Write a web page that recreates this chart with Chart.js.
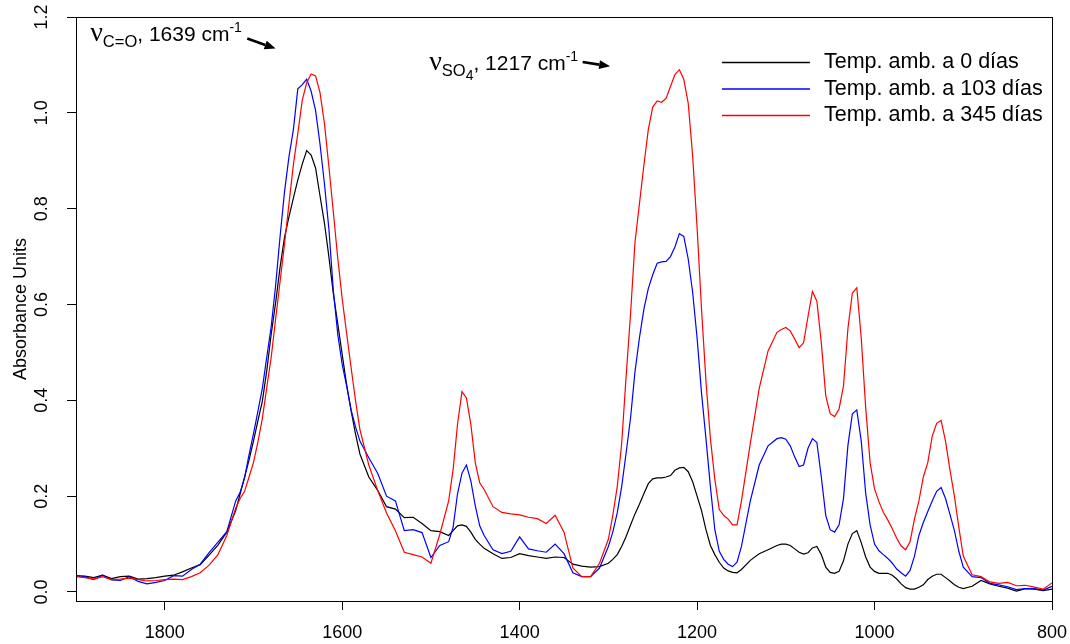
<!DOCTYPE html>
<html>
<head>
<meta charset="utf-8">
<script src="https://cdn.jsdelivr.net/npm/chart.js@4.4.1/dist/chart.umd.min.js"></script>
<style>
  html, body { margin: 0; padding: 0; background: #fff; }
  #wrap { width: 1070px; height: 644px; }
</style>
</head>
<body>
<div id="wrap"><canvas id="spectra" width="1070" height="644"></canvas></div>
<script>
// --- data (wavenumber in cm-1, absorbance units) ---
const wavenumbers = [
  1900, 1890, 1880, 1870, 1860, 1850, 1840, 1830, 1820, 1810, 1800, 1790, 1780,
  1770, 1760, 1750, 1740, 1730, 1720,
  1715, 1710, 1705, 1700, 1695, 1690, 1685, 1680, 1675, 1670, 1665, 1660, 1655, 1650,
  1645, 1640, 1635, 1630, 1625, 1620, 1615, 1610, 1605, 1600, 1595, 1590, 1585, 1580,
  1570, 1560, 1550, 1540, 1530, 1520, 1510, 1500, 1490, 1480,
  1475, 1470, 1465, 1460, 1455, 1450, 1445, 1440,
  1430, 1420, 1410, 1400, 1390, 1380, 1370, 1360, 1350, 1340, 1330, 1320, 1310, 1300,
  1295, 1290, 1285, 1280, 1275, 1270, 1265, 1260, 1255, 1250, 1245, 1240, 1235, 1230, 1225,
  1220, 1215, 1210, 1205, 1200, 1195, 1190, 1185, 1180, 1175, 1170, 1165, 1160, 1155, 1150,
  1140, 1130, 1120, 1110,
  1105, 1100, 1095, 1090, 1085, 1080, 1075, 1070, 1065, 1060, 1055, 1050, 1045, 1040, 1035,
  1030, 1025, 1020, 1015, 1010, 1005, 1000, 995, 990, 985, 980, 975, 970, 965, 960,
  955, 950, 945, 940, 935, 930, 925, 920, 915, 910, 905, 900,
  890, 880, 870, 860, 850, 840, 830, 820, 810, 800
];

const abs0days = [
  0.033, 0.033, 0.030, 0.035, 0.028, 0.032, 0.033, 0.027, 0.028, 0.030, 0.033, 0.035, 0.042,
  0.050, 0.057, 0.077, 0.098, 0.125, 0.170,
  0.205, 0.240, 0.275, 0.315, 0.357, 0.398, 0.462, 0.538, 0.604, 0.678, 0.740, 0.783, 0.822, 0.860,
  0.893, 0.921, 0.912, 0.885, 0.827, 0.770, 0.700, 0.623, 0.560, 0.496, 0.433, 0.379, 0.330, 0.288,
  0.240, 0.212, 0.178, 0.173, 0.155, 0.156, 0.143, 0.128, 0.126, 0.118,
  0.128, 0.138, 0.140, 0.137, 0.125, 0.110, 0.100, 0.091,
  0.080, 0.070, 0.072, 0.080, 0.076, 0.073, 0.070, 0.073, 0.072, 0.058, 0.054, 0.052, 0.053, 0.060,
  0.068, 0.078, 0.095, 0.116, 0.140, 0.163, 0.183, 0.205, 0.226, 0.236, 0.238, 0.238, 0.240, 0.243, 0.254,
  0.259, 0.260, 0.251, 0.230, 0.200, 0.170, 0.130, 0.097, 0.078, 0.062, 0.050, 0.044, 0.041, 0.040, 0.047,
  0.066, 0.080, 0.088, 0.097,
  0.100, 0.100, 0.097, 0.090, 0.083, 0.079, 0.082, 0.092, 0.095, 0.078, 0.052, 0.041, 0.039, 0.043, 0.065,
  0.100, 0.122, 0.128, 0.103, 0.073, 0.052, 0.043, 0.039, 0.039, 0.039, 0.035, 0.027, 0.017, 0.009, 0.006,
  0.006, 0.010, 0.015, 0.026, 0.033, 0.037, 0.037, 0.030, 0.023, 0.015, 0.010, 0.007,
  0.012, 0.024, 0.017, 0.012, 0.008, 0.002, 0.007, 0.006, 0.003, 0.006
];

const abs103days = [
  0.035, 0.032, 0.026, 0.035, 0.025, 0.024, 0.032, 0.022, 0.017, 0.020, 0.024, 0.034, 0.033,
  0.047, 0.058, 0.082, 0.104, 0.126, 0.190,
  0.208, 0.238, 0.286, 0.330, 0.377, 0.425, 0.490, 0.554, 0.640, 0.742, 0.835, 0.908, 0.965, 1.050,
  1.059, 1.070, 1.045, 1.005, 0.935, 0.852, 0.758, 0.630, 0.538, 0.475, 0.430, 0.380, 0.345, 0.315,
  0.280, 0.248, 0.200, 0.190, 0.128, 0.130, 0.124, 0.072, 0.097, 0.105,
  0.135, 0.205, 0.248, 0.265, 0.232, 0.180, 0.138, 0.118,
  0.088, 0.080, 0.085, 0.115, 0.090, 0.086, 0.083, 0.100, 0.080, 0.040, 0.032, 0.032, 0.050, 0.095,
  0.125, 0.165, 0.220, 0.290, 0.363, 0.460, 0.530, 0.590, 0.633, 0.662, 0.686, 0.689, 0.690, 0.700, 0.720,
  0.748, 0.742, 0.695, 0.625, 0.530, 0.415, 0.320, 0.220, 0.130, 0.085, 0.068, 0.058, 0.053, 0.062, 0.095,
  0.190, 0.265, 0.305, 0.320,
  0.322, 0.319, 0.305, 0.282, 0.262, 0.265, 0.300, 0.320, 0.312, 0.240, 0.160, 0.130, 0.125, 0.140, 0.195,
  0.306, 0.372, 0.380, 0.315, 0.206, 0.140, 0.100, 0.086, 0.078, 0.070, 0.060, 0.048, 0.040, 0.033, 0.045,
  0.075, 0.118, 0.145, 0.168, 0.190, 0.210, 0.218, 0.195, 0.162, 0.128, 0.085, 0.052,
  0.032, 0.030, 0.018, 0.015, 0.011, 0.005, 0.007, 0.007, 0.004, 0.012
];

const abs345days = [
  0.032, 0.030, 0.027, 0.032, 0.026, 0.027, 0.029, 0.026, 0.023, 0.024, 0.026, 0.027, 0.026,
  0.032, 0.040, 0.056, 0.078, 0.118, 0.175,
  0.195, 0.210, 0.240, 0.270, 0.313, 0.362, 0.427, 0.490, 0.570, 0.648, 0.726, 0.810, 0.892, 0.957,
  1.026, 1.063, 1.081, 1.077, 1.042, 0.978, 0.888, 0.793, 0.697, 0.612, 0.540, 0.469, 0.400, 0.339,
  0.265, 0.212, 0.165, 0.128, 0.083, 0.078, 0.073, 0.060, 0.120, 0.190,
  0.255, 0.350, 0.418, 0.405, 0.350, 0.270, 0.228, 0.214,
  0.178, 0.166, 0.163, 0.161, 0.156, 0.153, 0.143, 0.160, 0.125, 0.050, 0.032, 0.032, 0.060, 0.110,
  0.160, 0.220, 0.310, 0.450, 0.580, 0.730, 0.810, 0.890, 0.965, 1.012, 1.025, 1.022, 1.030, 1.055, 1.080,
  1.090, 1.070, 1.020, 0.910, 0.760, 0.590, 0.440, 0.320, 0.235, 0.172, 0.160, 0.152, 0.140, 0.140, 0.190,
  0.310, 0.425, 0.503, 0.542,
  0.548, 0.552, 0.545, 0.528, 0.510, 0.520, 0.575, 0.627, 0.607, 0.520, 0.410, 0.372, 0.366, 0.382, 0.430,
  0.550, 0.624, 0.635, 0.530, 0.385, 0.270, 0.215, 0.188, 0.166, 0.150, 0.132, 0.112, 0.096, 0.088, 0.105,
  0.152, 0.190, 0.240, 0.270, 0.325, 0.352, 0.358, 0.315, 0.255, 0.200, 0.135, 0.075,
  0.036, 0.032, 0.021, 0.018, 0.020, 0.013, 0.014, 0.010, 0.006, 0.019
];

const seriesLabels = ['Temp. amb. a 0 días', 'Temp. amb. a 103 días', 'Temp. amb. a 345 días'];
const seriesColors = ['#000000', '#0000ff', '#ff0000'];
const xTicks = [1800, 1600, 1400, 1200, 1000, 800];
const yTicks = [0, 0.2, 0.4, 0.6, 0.8, 1.0, 1.2];

const SANS = '"Liberation Sans", Arial, Helvetica, sans-serif';
const SERIF = '"Liberation Serif", "DejaVu Serif", serif';

// band labels, anchored in data units (wavenumber, absorbance)
const bandNotes = [
  {
    at: [1884, 1.149],
    parts: [
      { text: 'ν', size: 28, serif: true, dy: 0 },
      { text: 'C=O', size: 16.5, dy: 6 },
      { text: ', 1639 cm', size: 21, dy: 0 },
      { text: '-1', size: 14, dy: -9 }
    ],
    arrow: [[1707, 1.155], [1675, 1.134]]
  },
  {
    at: [1502, 1.090],
    parts: [
      { text: 'ν', size: 28, serif: true, dy: 0 },
      { text: 'SO', size: 16.5, dy: 6 },
      { text: '4', size: 14, dy: 10 },
      { text: ', 1217 cm', size: 21, dy: 0 },
      { text: '-1', size: 14, dy: -9 }
    ],
    arrow: [[1329, 1.106], [1298, 1.097]]
  }
];

Chart.defaults.font.family = SANS;
Chart.defaults.color = '#000';

// box round the plotting region, like R's box()
const frame = {
  id: 'frame',
  afterDraw(chart) {
    const { ctx, chartArea: a } = chart;
    ctx.save();
    ctx.strokeStyle = '#000';
    ctx.lineWidth = 1;
    ctx.strokeRect(Math.round(a.left) + 0.5, Math.round(a.top) + 0.5,
      Math.round(a.right - a.left), Math.round(a.bottom - a.top));
    ctx.restore();
  }
};

// legend inside the plot, top right, with line samples
const lineLegend = {
  id: 'lineLegend',
  afterDraw(chart) {
    const { ctx, chartArea: a } = chart;
    ctx.save();
    ctx.font = '21.5px ' + SANS;
    ctx.textBaseline = 'middle';
    ctx.textAlign = 'left';
    chart.data.datasets.forEach((ds, i) => {
      const y = a.top + 45.5 + i * 26.5;
      ctx.strokeStyle = ds.borderColor;
      ctx.lineWidth = 1.3;
      ctx.beginPath();
      ctx.moveTo(a.right - 330, y);
      ctx.lineTo(a.right - 242, y);
      ctx.stroke();
      ctx.fillStyle = '#000';
      ctx.fillText(ds.label, a.right - 228, y);
    });
    ctx.restore();
  }
};

// band assignments with arrows
const notes = {
  id: 'notes',
  afterDraw(chart) {
    const { ctx } = chart;
    const xs = chart.scales.x, ys = chart.scales.y;
    ctx.save();
    ctx.fillStyle = '#000';
    ctx.textBaseline = 'alphabetic';
    ctx.textAlign = 'left';
    bandNotes.forEach(n => {
      let x = xs.getPixelForValue(n.at[0]);
      const y = ys.getPixelForValue(n.at[1]);
      n.parts.forEach(p => {
        ctx.font = p.size + 'px ' + (p.serif ? SERIF : SANS);
        ctx.fillText(p.text, x, y + p.dy);
        x += ctx.measureText(p.text).width;
      });
      const x0 = xs.getPixelForValue(n.arrow[0][0]), y0 = ys.getPixelForValue(n.arrow[0][1]);
      const x1 = xs.getPixelForValue(n.arrow[1][0]), y1 = ys.getPixelForValue(n.arrow[1][1]);
      const ang = Math.atan2(y1 - y0, x1 - x0);
      const head = 11, half = 4.5;
      const bx = x1 - head * Math.cos(ang), by = y1 - head * Math.sin(ang);
      ctx.strokeStyle = '#000';
      ctx.lineWidth = 2.6;
      ctx.beginPath();
      ctx.moveTo(x0, y0);
      ctx.lineTo(bx, by);
      ctx.stroke();
      ctx.beginPath();
      ctx.moveTo(x1, y1);
      ctx.lineTo(bx + half * Math.sin(ang), by - half * Math.cos(ang));
      ctx.lineTo(bx - half * Math.sin(ang), by + half * Math.cos(ang));
      ctx.closePath();
      ctx.fill();
    });
    ctx.restore();
  }
};

const tickGrid = { display: true, drawOnChartArea: false, drawTicks: true, tickLength: 9, color: '#000', tickColor: '#000', lineWidth: 1 };

new Chart(document.getElementById('spectra').getContext('2d'), {
  type: 'line',
  data: {
    labels: wavenumbers,
    datasets: [
      { label: seriesLabels[0], data: abs0days, borderColor: seriesColors[0], order: 2 },
      { label: seriesLabels[1], data: abs103days, borderColor: seriesColors[1], order: 1 },
      { label: seriesLabels[2], data: abs345days, borderColor: seriesColors[2], order: 0 }
    ]
  },
  options: {
    responsive: false,
    animation: false,
    devicePixelRatio: 1,
    layout: { padding: { left: 0, top: 17, right: 18, bottom: 0 } },
    elements: {
      line: { borderWidth: 1.2, tension: 0, fill: false },
      point: { radius: 0, hoverRadius: 0 }
    },
    plugins: { legend: { display: false }, tooltip: { enabled: false } },
    scales: {
      x: {
        type: 'linear',
        reverse: true,
        min: 800,
        max: 1900,
        afterBuildTicks: s => { s.ticks = xTicks.map(v => ({ value: v })); },
        afterFit: s => { s.height = 43; s.paddingLeft = 0; s.paddingRight = 0; },
        grid: tickGrid,
        border: { display: false },
        ticks: { color: '#000', font: { size: 18 }, padding: 12, maxRotation: 0, callback: v => String(v) }
      },
      y: {
        min: -0.0188,
        max: 1.2,
        afterBuildTicks: s => { s.ticks = yTicks.map(v => ({ value: v })); },
        afterFit: s => { s.width = 76; s.paddingTop = 0; s.paddingBottom = 0; },
        grid: tickGrid,
        border: { display: false },
        ticks: {
          color: '#000', font: { size: 18 }, padding: 12,
          minRotation: 90, maxRotation: 90, crossAlign: 'center',
          callback: v => v.toFixed(1)
        },
        title: {
          display: true, text: 'Absorbance Units', color: '#000',
          font: { size: 18 }, padding: { top: 10, bottom: 0 }
        }
      }
    }
  },
  plugins: [frame, lineLegend, notes]
});
</script>
</body>
</html>
